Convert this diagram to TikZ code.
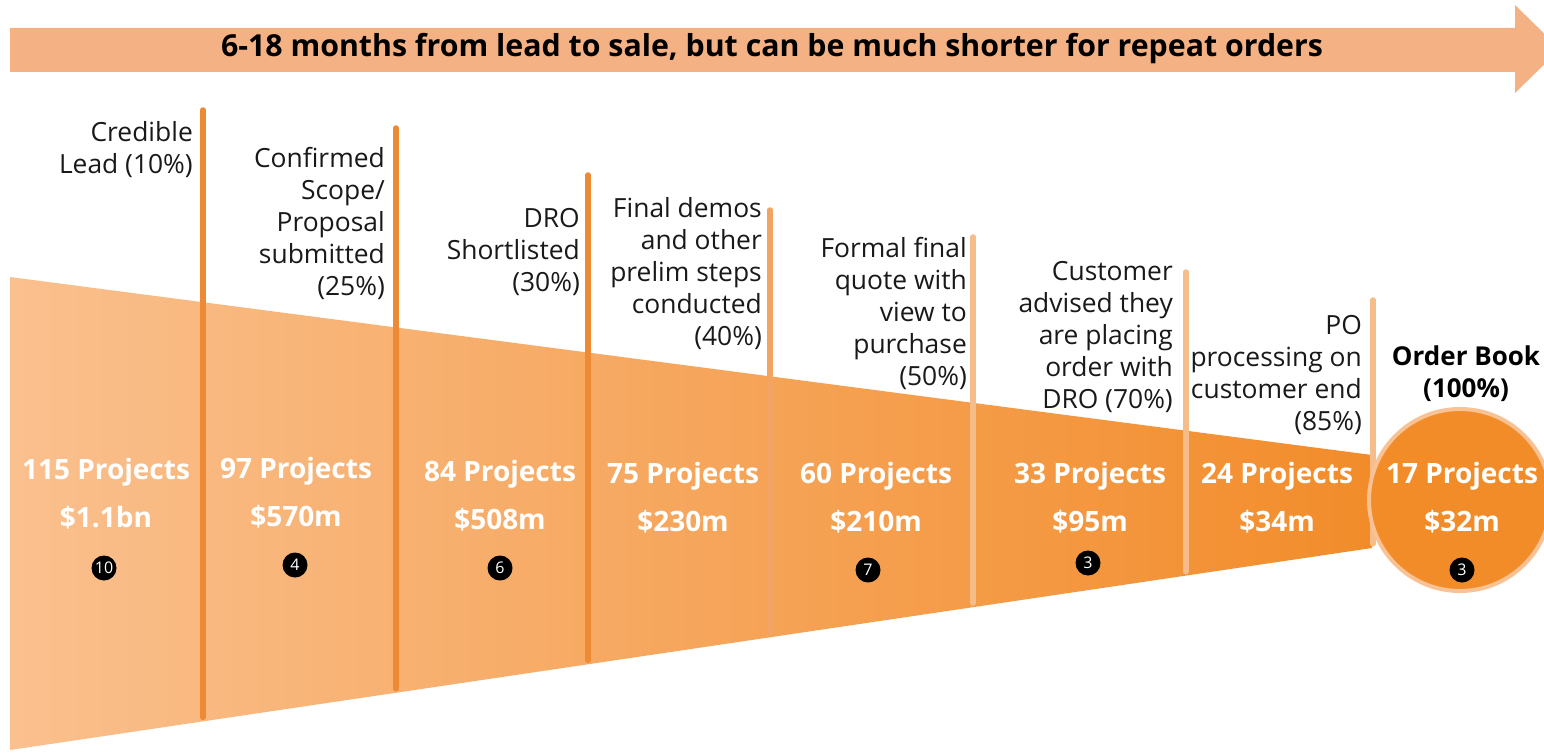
\documentclass[tikz,border=0pt]{standalone}
\usepackage{fontspec}
\setmainfont{Open Sans}

\definecolor{bannerorange}{HTML}{F4B183}
\definecolor{funnelleft}{HTML}{FAC08E}
\definecolor{funnelright}{HTML}{F28C2A}
\definecolor{bookorange}{HTML}{F28C28}
\definecolor{ringorange}{HTML}{F8C294}
\definecolor{divdark}{HTML}{EE8A33}
\definecolor{divmid}{HTML}{F2A462}
\definecolor{divlight}{HTML}{F6BC8A}

\tikzset{
  stagelabel/.style={anchor=north east, align=right, inner sep=0pt, text=black!90,
    font=\fontsize{26.4}{32}\selectfont},
  projects/.style={align=center, inner sep=0pt, text=white,
    font=\bfseries\fontsize{28}{48}\selectfont},
  badge/.style={circle, fill=black, text=white, inner sep=0pt, minimum size=25pt,
    font=\fontsize{16}{16}\selectfont},
  divider/.style={line width=5.5pt, line cap=round},
}

\begin{document}
\begin{tikzpicture}[x=1pt,y=-1pt]

    % Page frame, in pixels of the reference
    \useasboundingbox (0,0) rectangle (1544,752);

    % Banner arrow along the top
    \fill[bannerorange] (10,28) -- (1515,28) -- (1515,5) -- (1560,49)
        -- (1515,93) -- (1515,72) -- (10,72) -- cycle;
    \node[font=\bfseries\fontsize{30.3}{30}\selectfont] (banner) at (772,49)
        {6-18 months from lead to sale, but can be much shorter for repeat orders};

    % The funnel, narrowing to the right
    \shade[left color=funnelleft, right color=funnelright]
        (10,277) -- (1372,455) -- (1372,548) -- (10,750) -- cycle;

    % Stage dividers: x / top end / colour (lower end sits on the funnel edge)
    \foreach \x/\t/\c in {203/110/divdark, 396/128/divdark, 588/175/divdark,
                          770/210/divmid, 973/237/divlight, 1186/272/divlight,
                          1373/300/divlight}
        \draw[divider, \c] (\x,\t) -- (\x,{746-(\x-10)*0.1483});

    % Order book circle at the mouth
    \node[circle, fill=bookorange, draw=ringorange, line width=4pt,
          minimum size=182pt, inner sep=0pt] (book) at (1460,500) {};

    % Stage labels, right aligned against their divider
    \node[stagelabel] (lab1) at (193,121) {Credible\\Lead (10\%)};
    \node[stagelabel] (lab2) at (385,147) {Confirmed\\Scope/\\Proposal\\submitted\\(25\%)};
    \node[stagelabel] (lab3) at (580,208) {DRO\\Shortlisted\\(30\%)};
    \node[stagelabel] (lab4) at (762,197) {Final demos\\and other\\prelim steps\\conducted\\(40\%)};
    \node[stagelabel] (lab5) at (967,237) {Formal final\\quote with\\view to\\purchase\\(50\%)};
    \node[stagelabel] (lab6) at (1173,261) {Customer\\advised they\\are placing\\order with\\DRO (70\%)};
    \node[stagelabel] (lab7) at (1362,315) {PO\\processing on\\customer end\\(85\%)};
    \node[align=center, inner sep=0pt, font=\bfseries\fontsize{26}{32}\selectfont]
        (lab8) at (1466,374) {Order Book\\(100\%)};

    % Project counts and values
    \node[projects] (proj1) at (106,494) {115 Projects\\\$1.1bn};
    \node[projects] (proj2) at (296,493) {97 Projects\\\$570m};
    \node[projects] (proj3) at (500,496) {84 Projects\\\$508m};
    \node[projects] (proj4) at (683,498) {75 Projects\\\$230m};
    \node[projects] (proj5) at (876,498) {60 Projects\\\$210m};
    \node[projects] (proj6) at (1090,498) {33 Projects\\\$95m};
    \node[projects] (proj7) at (1277,498) {24 Projects\\\$34m};
    \node[projects] (proj8) at (1462,498) {17 Projects\\\$32m};

    % Numbered badges
    \node[badge] (b1) at (104,568) {10};
    \node[badge] (b2) at (295,565) {4};
    \node[badge] (b3) at (500,568) {6};
    \node[badge] (b5) at (868,570) {7};
    \node[badge] (b6) at (1088,563) {3};
    \node[badge] (b8) at (1462,570) {3};

\end{tikzpicture}
\end{document}
